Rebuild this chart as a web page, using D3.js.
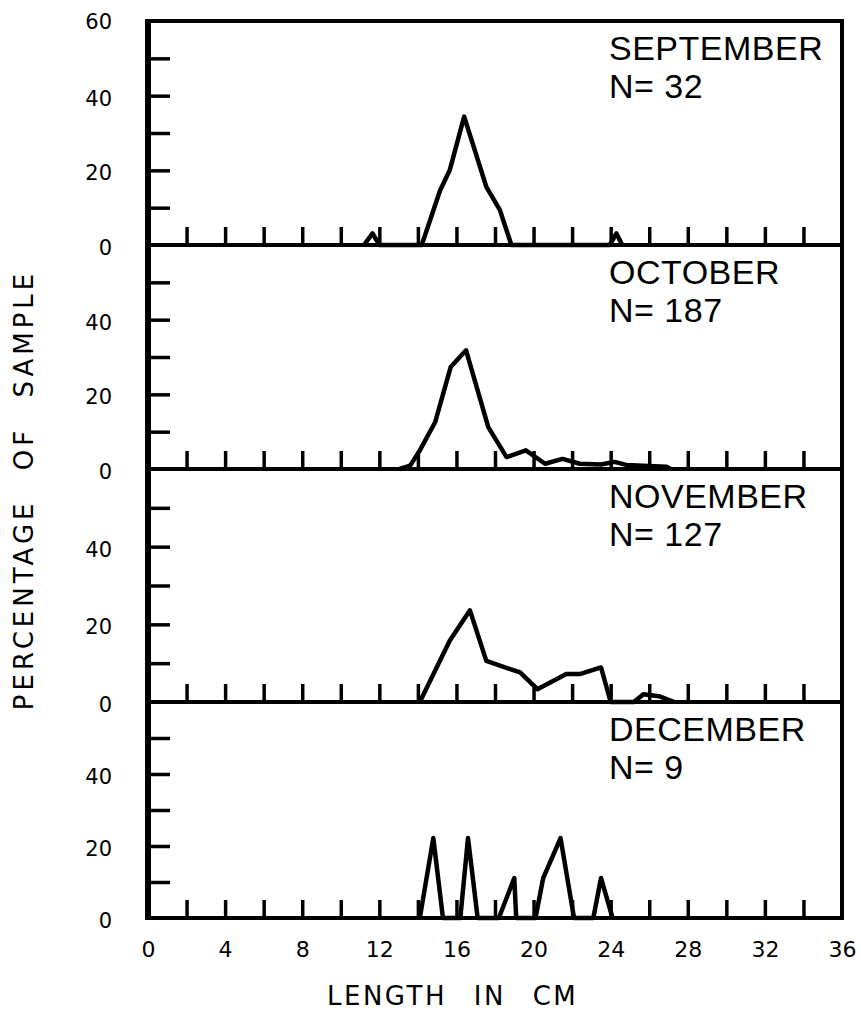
<!DOCTYPE html>
<html>
<head>
<meta charset="utf-8">
<script src="https://cdn.jsdelivr.net/npm/d3@7"></script>
<style>
  html, body { margin: 0; padding: 0; background: #fff; }
  svg { display: block; }
  text { fill: #000; }
</style>
</head>
<body>
<svg id="chart" width="861" height="1011"></svg>
<script>
// Length-frequency of the catch, one panel per month
const months = ["SEPTEMBER", "OCTOBER", "NOVEMBER", "DECEMBER"];
const sampleSizes = ["N= 32", "N= 187", "N= 127", "N= 9"];

// Length (cm) and percentage of sample for each month
const sepLength = [11.2, 11.65, 12.0, 14.2, 15.15, 15.65, 16.4, 17.55, 18.25, 18.85, 23.95, 24.3, 24.6];
const sepPct    = [0,    3.1,   0,    0,    14.6,  20.0,  34.4, 15.6,  9.4,   0,     0,     3.1,  0];

const octLength = [13.05, 13.6, 14.1, 14.9, 15.7, 16.5, 17.65, 18.6, 19.6, 20.6, 21.5, 22.4, 23.5, 24.2, 24.8, 26.9, 27.1];
const octPct    = [0,     0.9,  5.0,  12.6, 27.3, 31.8, 11.2,  3.2,  5.0,  1.4,  2.7,  1.4,  1.2,  1.9,  1.1,  0.6,  0];

const novLength = [14.1, 15.65, 16.7, 17.55, 19.3, 20.2, 21.7, 22.4, 23.5, 24.0, 25.2, 25.7, 26.5, 27.3];
const novPct    = [0,    15.8,  23.6, 10.6,  7.6,  3.3,  7.2,  7.2,  8.9,  0,    0,    2.0,  1.5,  0];

const decLength = [14.1, 14.8, 15.3, 16.2, 16.6, 17.1, 18.2, 19.0, 19.1, 20.1, 20.5, 21.4, 22.1, 23.1, 23.5, 24.1];
const decPct    = [0,    22.2, 0,    0,    22.2, 0,    0,    11.1, 0,    0,    11.1, 22.2, 0,    0,    11.1, 0];

const seriesLength = [sepLength, octLength, novLength, decLength];
const seriesPct = [sepPct, octPct, novPct, decPct];

// Axis ticks and labels
const yTickValues = [0, 10, 20, 30, 40, 50, 60];
const yTopLabels = [60, 40, 20, 0];
const yLabels = [40, 20, 0];
const xTickValues = d3.range(0, 37, 2);
const xLabelValues = [0, 4, 8, 12, 16, 20, 24, 28, 32, 36];

// Layout
const left = 148, right = 842;
const edges = [21, 245, 469, 702, 918];
const tickFont = "'DejaVu Sans', sans-serif";
const labelFont = "'Liberation Sans', Arial, sans-serif";

const svg = d3.select("#chart");
const x = d3.scaleLinear().domain([0, 36]).range([left, right]);

months.forEach((name, i) => {
  const top = edges[i], bottom = edges[i + 1];
  const y = d3.scaleLinear().domain([0, 60]).range([bottom, top]);
  const g = svg.append("g");
  const shown = i === 0 ? yTopLabels : yLabels;

  // Inward ticks on the left, labels outside the frame
  const yAxis = d3.axisLeft(y)
    .tickValues(yTickValues)
    .tickSizeInner(-22)
    .tickSizeOuter(0)
    .tickPadding(36)
    .tickFormat(d => shown.includes(d) ? d3.format("d")(d) : "");
  const ya = g.append("g").attr("transform", `translate(${left},0)`).call(yAxis);
  ya.select(".domain").remove();
  ya.selectAll(".tick line").attr("stroke", "#000").attr("stroke-width", 3.5)
    .filter(d => d === 0 || d === 60).remove();
  ya.selectAll(".tick text")
    .style("font-family", tickFont)
    .style("font-size", "21px")
    .attr("dy", d => d === 60 ? "0.35em" : "0.45em");

  // Upward ticks along each baseline
  const xAxis = d3.axisBottom(x)
    .tickValues(xTickValues)
    .tickSizeInner(-18)
    .tickSizeOuter(0)
    .tickPadding(23)
    .tickFormat(d => (i === months.length - 1 && xLabelValues.includes(d)) ? d : "");
  const xa = g.append("g").attr("transform", `translate(0,${bottom})`).call(xAxis);
  xa.select(".domain").remove();
  xa.selectAll(".tick line").attr("stroke", "#000").attr("stroke-width", 3.5)
    .filter(d => d === 0 || d === 36).remove();
  xa.selectAll(".tick text")
    .style("font-family", tickFont)
    .style("font-size", "22px");

  // Frequency polygon
  const pts = seriesLength[i].map((v, k) => [v, seriesPct[i][k]]);
  g.append("path")
    .datum(pts)
    .attr("fill", "none")
    .attr("stroke", "#000")
    .attr("stroke-width", 4.5)
    .attr("stroke-linejoin", "round")
    .attr("d", d3.line().x(d => x(d[0])).y(d => y(d[1])));

  // Month and sample size
  g.append("text")
    .attr("x", 609).attr("y", top + 39)
    .style("font-family", labelFont).style("font-size", "34px")
    .style("letter-spacing", "0.5px")
    .text(name);
  g.append("text")
    .attr("x", 609).attr("y", top + 77)
    .style("font-family", labelFont).style("font-size", "34px")
    .style("letter-spacing", "0.5px")
    .text(sampleSizes[i]);

  // Panel separator
  if (i > 0) {
    svg.append("line")
      .attr("x1", left).attr("x2", right)
      .attr("y1", top).attr("y2", top)
      .attr("stroke", "#000").attr("stroke-width", 4);
  }
});

// Outer frame
svg.append("rect")
  .attr("x", left).attr("y", edges[0])
  .attr("width", right - left).attr("height", edges[4] - edges[0])
  .attr("fill", "none").attr("stroke", "#000").attr("stroke-width", 4);
svg.append("line")
  .attr("x1", left).attr("x2", left)
  .attr("y1", edges[0] - 2).attr("y2", edges[4] + 2)
  .attr("stroke", "#000").attr("stroke-width", 6);

// Axis titles
svg.append("text")
  .attr("x", 327).attr("y", 1005)
  .style("font-family", tickFont)
  .style("font-size", "26px")
  .style("letter-spacing", "2.5px")
  .style("word-spacing", "16px")
  .text("LENGTH IN CM");

svg.append("text")
  .attr("transform", "translate(33,490) rotate(-90)")
  .attr("text-anchor", "middle")
  .style("font-family", tickFont)
  .style("font-size", "26px")
  .style("letter-spacing", "4px")
  .style("word-spacing", "17px")
  .text("PERCENTAGE OF SAMPLE");
</script>
</body>
</html>
